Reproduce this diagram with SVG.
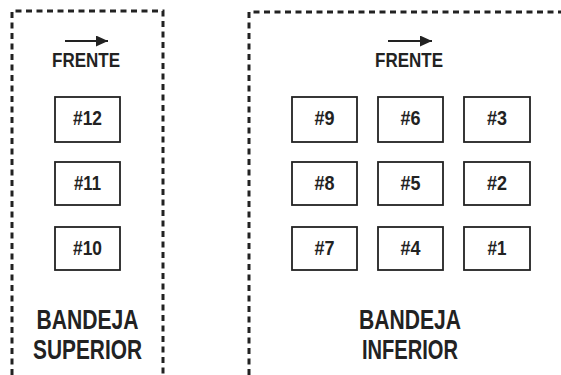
<svg xmlns="http://www.w3.org/2000/svg" width="561" height="375" viewBox="0 0 561 375">
<defs>
<marker id="ah" viewBox="0 0 12 11" refX="12" refY="5.5" markerWidth="12" markerHeight="11" markerUnits="userSpaceOnUse" orient="auto">
<path d="M0,0 L12,5.5 L0,11 z" fill="#222"/>
</marker>
<style>
.tray{fill:none;stroke:#222;stroke-width:3;stroke-dasharray:6 4.5}
.box{fill:#fff;stroke:#222;stroke-width:1.8}
.lbl{font-family:"Liberation Sans",Arial,sans-serif;font-weight:bold;fill:#222;text-anchor:middle}
.n{font-size:19.5px}
.f{font-size:20px}
.t{font-size:28px}
.arr{stroke:#222;stroke-width:1.8;fill:none}
</style>
</defs>
<rect width="561" height="375" fill="#fff"/>
<g id="tray-superior">
<path class="tray" d="M12,375 V11 H163 V375"/>
<text class="lbl t" x="87.5" y="328.5" textLength="102" lengthAdjust="spacingAndGlyphs">BANDEJA</text>
<text class="lbl t" x="87.5" y="358.5" textLength="109" lengthAdjust="spacingAndGlyphs">SUPERIOR</text>
</g>
<g id="tray-inferior">
<path class="tray" d="M249,375 V12 H561"/>
<text class="lbl t" x="410" y="328.5" textLength="102" lengthAdjust="spacingAndGlyphs">BANDEJA</text>
<text class="lbl t" x="410" y="358.5" textLength="96" lengthAdjust="spacingAndGlyphs">INFERIOR</text>
</g>
<g id="connectors">
<line class="arr" x1="65" y1="41" x2="108" y2="41" marker-end="url(#ah)"/>
<line class="arr" x1="388" y1="41" x2="432" y2="41" marker-end="url(#ah)"/>
</g>
<g id="frente-left"><text class="lbl f" x="86" y="67" textLength="68" lengthAdjust="spacingAndGlyphs">FRENTE</text></g>
<g id="frente-right"><text class="lbl f" x="409" y="67" textLength="68" lengthAdjust="spacingAndGlyphs">FRENTE</text></g>
<g id="n12"><rect class="box" x="55" y="97" width="65" height="45"/><text class="lbl n" x="87.5" y="124.5" textLength="29" lengthAdjust="spacingAndGlyphs">#12</text></g>
<g id="n11"><rect class="box" x="55" y="162" width="65" height="43"/><text class="lbl n" x="87.5" y="189.5" textLength="27" lengthAdjust="spacingAndGlyphs">#11</text></g>
<g id="n10"><rect class="box" x="55" y="227" width="65" height="43"/><text class="lbl n" x="87.5" y="254.5" textLength="29" lengthAdjust="spacingAndGlyphs">#10</text></g>
<g id="n9"><rect class="box" x="292" y="97" width="65" height="45"/><text class="lbl n" x="324.5" y="124.5" textLength="20" lengthAdjust="spacingAndGlyphs">#9</text></g>
<g id="n6"><rect class="box" x="378" y="97" width="65" height="45"/><text class="lbl n" x="410.5" y="124.5" textLength="20" lengthAdjust="spacingAndGlyphs">#6</text></g>
<g id="n3"><rect class="box" x="464" y="97" width="66" height="45"/><text class="lbl n" x="497" y="124.5" textLength="20" lengthAdjust="spacingAndGlyphs">#3</text></g>
<g id="n8"><rect class="box" x="292" y="162" width="65" height="43"/><text class="lbl n" x="324.5" y="189.5" textLength="20" lengthAdjust="spacingAndGlyphs">#8</text></g>
<g id="n5"><rect class="box" x="378" y="162" width="65" height="43"/><text class="lbl n" x="410.5" y="189.5" textLength="20" lengthAdjust="spacingAndGlyphs">#5</text></g>
<g id="n2"><rect class="box" x="464" y="162" width="66" height="43"/><text class="lbl n" x="497" y="189.5" textLength="20" lengthAdjust="spacingAndGlyphs">#2</text></g>
<g id="n7"><rect class="box" x="292" y="227" width="65" height="43"/><text class="lbl n" x="324.5" y="254.5" textLength="20" lengthAdjust="spacingAndGlyphs">#7</text></g>
<g id="n4"><rect class="box" x="378" y="227" width="65" height="43"/><text class="lbl n" x="410.5" y="254.5" textLength="20" lengthAdjust="spacingAndGlyphs">#4</text></g>
<g id="n1"><rect class="box" x="464" y="227" width="66" height="43"/><text class="lbl n" x="497" y="254.5" textLength="19" lengthAdjust="spacingAndGlyphs">#1</text></g>
</svg>
